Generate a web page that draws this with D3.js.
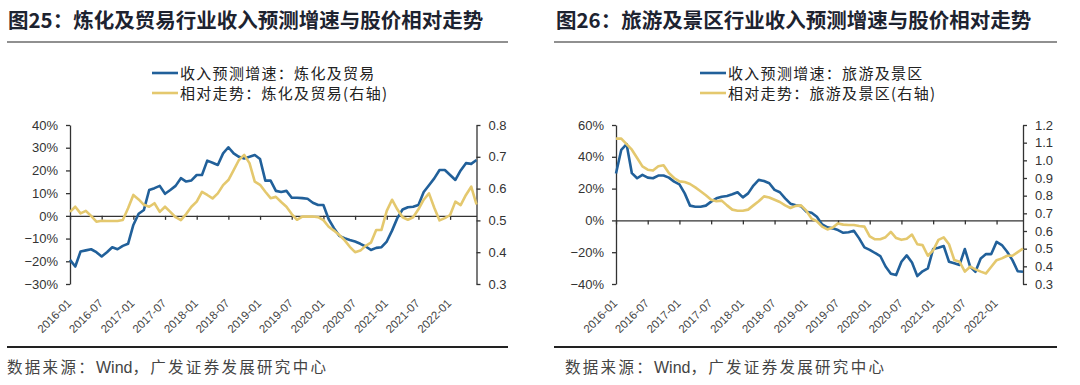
<!DOCTYPE html>
<html>
<head>
<meta charset="utf-8">
<script src="https://cdn.jsdelivr.net/npm/d3@7"></script>
<style>
  body { margin: 0; background: #fff; }
  svg { display: block; }
  .tick text { font-family: "Liberation Sans", Arial, sans-serif; font-size: 13px; fill: #333; }
</style>
</head>
<body>
<svg id="chart" width="1080" height="385"></svg>
<script>
// month categories 2016-01 .. 2022-06
var months = d3.timeMonth.range(new Date(2016, 0, 1), new Date(2022, 6, 1)).map(d3.timeFormat("%Y-%m"));
var tickLabels = ["2016-01","2016-07","2017-01","2017-07","2018-01","2018-07","2019-01",
                  "2019-07","2020-01","2020-07","2021-01","2021-07","2022-01"];

var titles = ["图25：炼化及贸易行业收入预测增速与股价相对走势", "图26：旅游及景区行业收入预测增速与股价相对走势"];
var legendRev = ["收入预测增速：炼化及贸易", "收入预测增速：旅游及景区"];
var legendRel = ["相对走势：炼化及贸易(右轴)", "相对走势：旅游及景区(右轴)"];
var sourceParts = ["数据来源：", "Wind", "，广发证券发展研究中心"];

// 炼化及贸易 revenue forecast growth (%)
var refiningRev = [-19.4,-22.3,-15.7,-15.2,-14.7,-16,-17.9,-16,-13.8,-14.7,
  -13.2,-12.3,-4,0.9,2.6,11.4,12.2,13.2,9.7,11.4,
  13.2,16.6,15.1,15.6,18,18,24.3,23.4,22.4,27.5,
  30.2,27.5,26,25.3,26,26.8,25,15.5,15.5,11,
  10.5,11,8,8,7.8,7.5,5.8,4.8,4.8,-1.5,
  -5.4,-8.8,-9.8,-10.6,-11.3,-12.3,-13.5,-15,-14.1,-13.8,
  -11.3,-6.5,-1,2.8,3.8,4,4.8,10.5,13.5,16.5,
  20.2,20.2,18,15.8,20,23.2,22.9,24.6];
// 炼化及贸易 relative price (right axis)
var refiningRel = [0.527,0.543,0.522,0.530,0.514,0.496,0.499,0.498,0.498,0.498,
  0.501,0.538,0.58,0.566,0.549,0.543,0.554,0.527,0.543,0.527,
  0.51,0.501,0.52,0.543,0.559,0.59,0.58,0.569,0.585,0.611,
  0.627,0.658,0.69,0.706,0.68,0.622,0.612,0.59,0.57,0.574,
  0.558,0.543,0.52,0.502,0.512,0.512,0.512,0.51,0.501,0.48,
  0.468,0.454,0.438,0.417,0.40,0.405,0.42,0.43,0.47,0.47,
  0.53,0.565,0.535,0.51,0.502,0.51,0.535,0.565,0.585,0.54,
  0.5,0.507,0.517,0.559,0.548,0.58,0.606,0.55];
// 旅游及景区 revenue forecast growth (%)
var tourismRev = [29.5,44.4,48,29.7,26.5,28.6,26.9,26.5,28.2,28.2,
  26.9,24.4,22.7,17,9.3,8.6,8.6,9.3,11.8,13.9,
  14.9,15.4,16.4,17.7,14.5,17,21.9,25.5,24.8,23.4,
  19.2,17.7,13.9,10.5,9.5,9,5.5,4.8,2.3,-2.5,
  -4.4,-5,-6.1,-7.8,-7.5,-6.5,-11.3,-17,-18.5,-20.5,
  -22.4,-29,-33.5,-34.4,-26,-22,-26.5,-35,-32,-30.2,
  -18,-17.2,-16.1,-26,-27,-28,-18,-29,-32.3,-24,
  -21.2,-21.2,-13.5,-15.5,-19.7,-25,-32,-32.3];
// 旅游及景区 relative price (right axis)
var tourismRel = [1.123,1.123,1.092,1.06,1.013,0.966,0.947,0.942,0.966,0.972,
  0.928,0.9,0.881,0.877,0.866,0.847,0.825,0.802,0.777,0.768,
  0.772,0.745,0.721,0.715,0.715,0.721,0.745,0.768,0.796,0.79,
  0.777,0.764,0.745,0.73,0.742,0.745,0.715,0.67,0.655,0.625,
  0.609,0.62,0.643,0.636,0.634,0.634,0.628,0.625,0.57,0.553,
  0.553,0.565,0.595,0.56,0.55,0.556,0.58,0.525,0.52,0.46,
  0.49,0.55,0.564,0.525,0.436,0.426,0.37,0.398,0.383,0.37,
  0.36,0.398,0.435,0.445,0.46,0.46,0.48,0.5];

var leftTicks = [[-0.3,-0.2,-0.1,0,0.1,0.2,0.3,0.4], [-0.4,-0.2,0,0.2,0.4,0.6]];
var rightTicks = [[0.3,0.4,0.5,0.6,0.7,0.8], [0.3,0.4,0.5,0.6,0.7,0.8,0.9,1.0,1.1,1.2]];

var blue = "#21609a", gold = "#e4c86e";
var cjk = "'Noto Sans CJK SC', 'Noto Sans', sans-serif";
var latin = "'Liberation Sans', Arial, sans-serif";
var svg = d3.select("#chart");

var panels = [
  {x0: 70, x1: 476.5, title: 8, rule: [7, 508], src: 7, leg: 152,
   rev: refiningRev, rel: refiningRel, l: [-0.3, 0.4], r: [0.3, 0.8]},
  {x0: 616, x1: 1023, title: 556, rule: [554, 1057], src: 565, leg: 700,
   rev: tourismRev, rel: tourismRel, l: [-0.4, 0.6], r: [0.3, 1.2]}
];

panels.forEach(function(p, k){
    var g = svg.append("g");
    var top = 125, bottom = 284;

    g.append("text").attr("x", p.title).attr("y", 28)
        .attr("font-family", cjk).attr("font-weight", "bold").attr("font-size", 20.5)
        .attr("fill", "#1d2330").text(titles[k]);
    g.append("line").attr("x1", p.rule[0]).attr("x2", p.rule[1]).attr("y1", 42).attr("y2", 42)
        .attr("stroke", "#222").attr("stroke-width", 1.2);

    var x = d3.scalePoint().domain(months).range([p.x0, p.x1]);
    var yL = d3.scaleLinear().domain(p.l).range([bottom, top]);
    var yR = d3.scaleLinear().domain(p.r).range([bottom, top]);

    // x axis along zero line
    g.append("g").attr("transform", "translate(0," + yL(0) + ")")
        .call(d3.axisBottom(x).tickValues(tickLabels).tickSize(4).tickSizeOuter(0).tickFormat(""))
        .call(function(a){ a.selectAll("path,line").attr("stroke", "#333").attr("stroke-width", 1.3); });

    g.selectAll(".xl").data(tickLabels).enter().append("text")
        .attr("transform", function(d){ return "translate(" + (x(d) + 2) + ",304) rotate(-45)"; })
        .attr("text-anchor", "end")
        .attr("font-family", latin).attr("font-size", 11.5)
        .attr("fill", "#444").text(function(d){ return d; });

    g.append("g").attr("transform", "translate(" + p.x0 + ",0)")
        .call(d3.axisLeft(yL).tickValues(leftTicks[k]).tickSize(4).tickSizeOuter(0).tickPadding(8)
            .tickFormat(d3.format(".0%")))
        .call(function(a){ a.selectAll("path,line").attr("stroke", "#333").attr("stroke-width", 1.3); });

    g.append("g").attr("transform", "translate(" + p.x1 + ",0)")
        .call(d3.axisRight(yR).tickValues(rightTicks[k]).tickSize(4).tickSizeOuter(0).tickPadding(8)
            .tickFormat(d3.format(".1f")))
        .call(function(a){ a.selectAll("path,line").attr("stroke", "#333").attr("stroke-width", 1.3); });

    g.append("path").datum(p.rev)
        .attr("fill", "none").attr("stroke", blue).attr("stroke-width", 2.6).attr("stroke-linejoin", "round")
        .attr("d", d3.line().x(function(d, i){ return x(months[i]); }).y(function(d){ return yL(d / 100); }));
    g.append("path").datum(p.rel)
        .attr("fill", "none").attr("stroke", gold).attr("stroke-width", 2.6).attr("stroke-linejoin", "round")
        .attr("d", d3.line().x(function(d, i){ return x(months[i]); }).y(function(d){ return yR(d); }));

    // legend
    [[legendRev[k], blue, 73], [legendRel[k], gold, 93]].forEach(function(item){
        g.append("line").attr("x1", p.leg).attr("x2", p.leg + 26).attr("y1", item[2]).attr("y2", item[2])
            .attr("stroke", item[1]).attr("stroke-width", 2.6);
        g.append("text").attr("x", p.leg + 28).attr("y", item[2] + 5.5)
            .attr("font-family", cjk).attr("font-size", 15).attr("letter-spacing", 1.3)
            .attr("fill", "#222").text(item[0]);
    });

    g.append("line").attr("x1", p.rule[0]).attr("x2", p.rule[1]).attr("y1", 347).attr("y2", 347)
        .attr("stroke", "#222").attr("stroke-width", 2);
    var src = g.append("text").attr("x", p.src).attr("y", 373)
        .attr("font-family", cjk).attr("font-size", 15.5).attr("fill", "#444");
    src.append("tspan").attr("letter-spacing", 2.3).text(sourceParts[0]);
    src.append("tspan").attr("font-family", latin).attr("font-size", 16).text(sourceParts[1]);
    src.append("tspan").attr("letter-spacing", 2.3).text(sourceParts[2]);
});
</script>
</body>
</html>
